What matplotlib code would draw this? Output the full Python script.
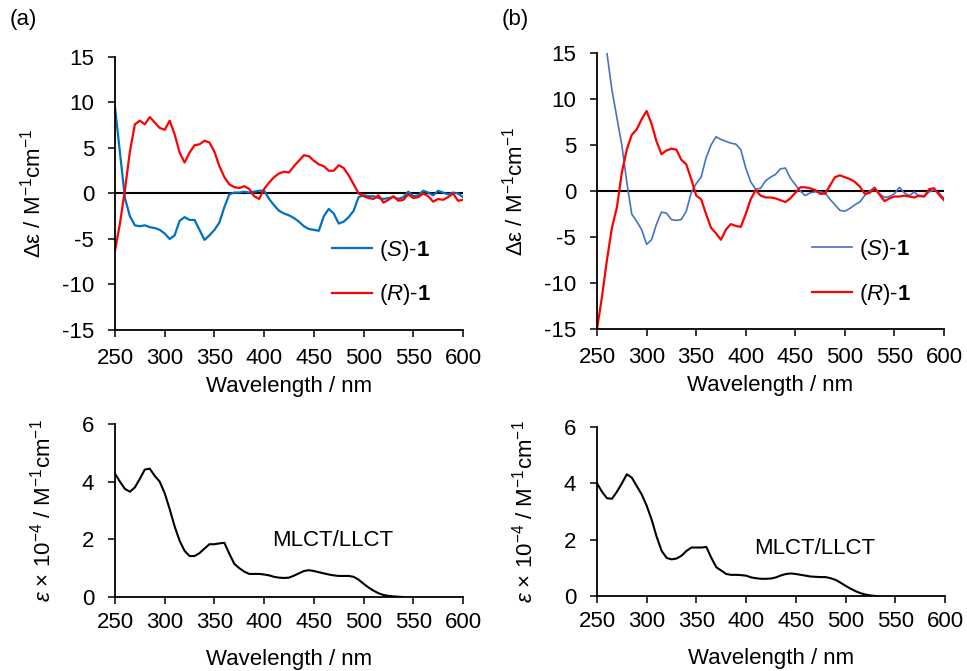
import numpy as np
import matplotlib
matplotlib.use("Agg")
import matplotlib.pyplot as plt

plt.rcParams['font.family'] = ['Liberation Sans', 'DejaVu Sans']
plt.rcParams['mathtext.fontset'] = 'custom'
plt.rcParams['mathtext.rm'] = 'Liberation Sans'
plt.rcParams['mathtext.it'] = 'Liberation Sans:italic'
plt.rcParams['mathtext.bf'] = 'Liberation Sans:bold'
plt.rcParams['axes.unicode_minus'] = False

# CD spectra, 250-600 nm every 5 nm
wl_cd = list(range(250, 605, 5))

cd_S_a = [9.5, 4.5, -0.5, -2.5, -3.5, -3.6, -3.5, -3.7, -3.8, -4.0,
          -4.4, -5.0, -4.6, -3.0, -2.6, -2.9, -2.9, -4.0, -5.1, -4.6,
          -4.0, -3.2, -1.5, -0.1, 0.1, 0.1, 0.2, 0.1, 0.2, 0.3,
          0.3, -0.6, -1.3, -1.9, -2.2, -2.4, -2.7, -3.1, -3.6, -3.9,
          -4.0, -4.1, -2.5, -1.7, -2.2, -3.3, -3.1, -2.6, -1.9, -0.4,
          -0.2, -0.3, -0.3, -0.5, -0.6, -0.5, -0.4, -0.6, -0.4, 0.2,
          -0.3, -0.2, 0.3, 0.1, -0.2, 0.3, 0.1, -0.1, 0.1, 0.0, -0.4]
cd_R_a = [-6.3, -3.3, 0.4, 4.6, 7.6, 8.0, 7.6, 8.4, 7.8, 7.2,
          7.0, 8.0, 6.5, 4.5, 3.4, 4.5, 5.3, 5.4, 5.8, 5.6,
          4.6, 3.0, 1.8, 1.0, 0.7, 0.6, 0.8, 0.5, -0.3, -0.6,
          0.5, 1.2, 1.8, 2.2, 2.4, 2.3, 3.0, 3.6, 4.2, 4.1,
          3.6, 3.2, 3.0, 2.5, 2.5, 3.1, 2.8, 2.0, 1.0, 0.0,
          -0.3, -0.5, -0.6, -0.2, -1.0, -0.7, -0.3, -0.8, -0.7, -0.1,
          -0.5, -0.4, 0.0, -0.3, -0.9, -0.6, -0.7, -0.4, 0.0, -0.8, -0.7]

cd_S_b = [31, 22, 15, 11, 8, 5, 1.0, -2.5, -3.3, -4.2,
          -5.8, -5.3, -3.6, -2.3, -2.4, -3.1, -3.2, -3.1, -2.2, -0.2,
          0.8, 1.5, 3.6, 5.0, 5.9, 5.6, 5.4, 5.2, 5.1, 4.5,
          2.5, 1.0, 0.2, 0.3, 1.1, 1.5, 1.8, 2.4, 2.5, 1.4,
          0.7, 0.0, -0.5, -0.2, -0.1, -0.1, -0.2, -0.9, -1.5, -2.1,
          -2.2, -1.9, -1.5, -1.2, -0.5, 0.0, 0.4, -0.3, -0.7, -0.6,
          -0.3, 0.4, -0.2, -0.5, -0.1, -0.6, -0.6, -0.1, 0.1, -0.2, -0.8]
cd_R_b = [-15, -11.5, -7.5, -4.0, -1.8, 2.0, 4.5, 6.1, 6.7, 7.8,
          8.7, 7.3, 5.4, 4.0, 4.4, 4.6, 4.5, 3.4, 2.9, 1.3,
          -0.5, -0.9, -2.5, -4.0, -4.6, -5.3, -4.2, -3.6, -3.8, -3.9,
          -2.5, -0.9, 0.1, -0.5, -0.7, -0.7, -0.8, -1.0, -1.2, -0.8,
          -0.2, 0.4, 0.4, 0.3, 0.1, -0.3, -0.3, 0.6, 1.5, 1.7,
          1.5, 1.3, 1.0, 0.5, -0.3, -0.2, 0.3, -0.4, -1.1, -0.8,
          -0.6, -0.6, -0.5, -0.6, -0.7, -0.5, -0.6, 0.2, 0.3, -0.4, -1.0]

# absorption spectra (x 10^-4)
wl_abs_a = list(range(250, 545, 5))
abs_a = [4.28, 4.0, 3.75, 3.65, 3.8, 4.1, 4.42, 4.45, 4.2, 4.0,
         3.6, 3.05, 2.45, 1.95, 1.6, 1.42, 1.42, 1.52, 1.68, 1.83,
         1.83, 1.86, 1.88, 1.5, 1.15, 1.0, 0.88, 0.8, 0.8, 0.8,
         0.78, 0.75, 0.7, 0.67, 0.66, 0.67, 0.74, 0.82, 0.9, 0.93,
         0.9, 0.86, 0.82, 0.78, 0.75, 0.73, 0.73, 0.73, 0.7, 0.6,
         0.46, 0.33, 0.22, 0.13, 0.07, 0.04, 0.02, 0.01, 0.0]
wl_abs_b = list(range(250, 535, 5))
abs_b = [4.0, 3.7, 3.47, 3.45, 3.7, 4.0, 4.32, 4.2, 3.9, 3.6,
         3.2, 2.7, 2.1, 1.6, 1.35, 1.3, 1.33, 1.43, 1.6, 1.72,
         1.72, 1.72, 1.74, 1.35, 1.02, 0.9, 0.78, 0.75, 0.75, 0.74,
         0.72, 0.66, 0.63, 0.61, 0.61, 0.62, 0.66, 0.73, 0.78, 0.8,
         0.78, 0.75, 0.72, 0.69, 0.68, 0.67, 0.67, 0.63, 0.57, 0.47,
         0.36, 0.26, 0.17, 0.1, 0.05, 0.02, 0.0]

x_ticks = list(range(250, 650, 50))
cd_ticks = [-15, -10, -5, 0, 5, 10, 15]
abs_ticks = [0, 2, 4, 6]

FS = 16
cd_label = r'Δε / M$^{-1}$cm$^{-1}$'
abs_label = r'$\mathit{ε}$ × 10$^{-4}$ / M$^{-1}$cm$^{-1}$'

fig = plt.figure(figsize=(9.67, 6.71), dpi=100)


def style(ax, yticks, ylim, xpad, labelpad):
    ax.set_xlim(250, 600)
    ax.set_ylim(*ylim)
    ax.set_xticks(x_ticks)
    ax.set_yticks(yticks)
    ax.spines['top'].set_visible(False)
    ax.spines['right'].set_visible(False)
    for s in ['left', 'bottom']:
        ax.spines[s].set_linewidth(1.3)
    ax.tick_params(direction='out', length=5, width=1.1, labelsize=FS)
    ax.tick_params(axis='y', pad=10)
    ax.tick_params(axis='x', pad=xpad)
    ax.set_xlabel('Wavelength / nm', fontsize=FS, labelpad=labelpad)


def cd_panel(rect, s_vals, r_vals, s_color, s_lw, leg_x, leg_y):
    ax = fig.add_axes(rect)
    ax.axhline(0, color='black', lw=1.5, zorder=1)
    ax.plot(wl_cd, s_vals, color=s_color, lw=s_lw, label=r'($\mathit{S}$)-$\mathbf{1}$', zorder=2)
    ax.plot(wl_cd, r_vals, color='#FF0000', lw=1.6, label=r'($\mathit{R}$)-$\mathbf{1}$', zorder=2)
    style(ax, cd_ticks, (-15, 15), 8, 5)
    ax.set_ylabel(cd_label, fontsize=FS)
    ax.yaxis.set_label_coords(-0.20, 0.5)
    ax.legend(loc='center left', bbox_to_anchor=(leg_x, leg_y), frameon=False,
              fontsize=FS, handlelength=1.8, handletextpad=0.3, labelspacing=0.88,
              borderaxespad=0)
    return ax


def abs_panel(rect, wl, vals, text_y):
    ax = fig.add_axes(rect)
    ax.plot(wl, vals, color='black', lw=1.5)
    style(ax, abs_ticks, (0, 6), 6, 11)
    ax.set_ylabel(abs_label, fontsize=FS)
    ax.yaxis.set_label_coords(-0.17, 0.5)
    ax.text(408, text_y, 'MLCT/LLCT', fontsize=FS, va='center', ha='left')
    return ax


cd_panel([0.1189, 0.5082, 0.3599, 0.4069], cd_S_a, cd_R_a, '#0070C0', 1.6, 0.598, 0.21)
cd_panel([0.6174, 0.5097, 0.3588, 0.4113], cd_S_b, cd_R_b, '#4472C4', 1.2, 0.594, 0.207)
abs_panel([0.1189, 0.1103, 0.3599, 0.2578], wl_abs_a, abs_a, 1.95)
abs_panel([0.6174, 0.1118, 0.3599, 0.2519], wl_abs_b, abs_b, 1.7)

fig.text(10 / 967, 1 - 20 / 671, '(a)', fontsize=FS, va='center', ha='left')
fig.text(502 / 967, 1 - 20 / 671, '(b)', fontsize=FS, va='center', ha='left')

fig.savefig('out.png', dpi=100)
